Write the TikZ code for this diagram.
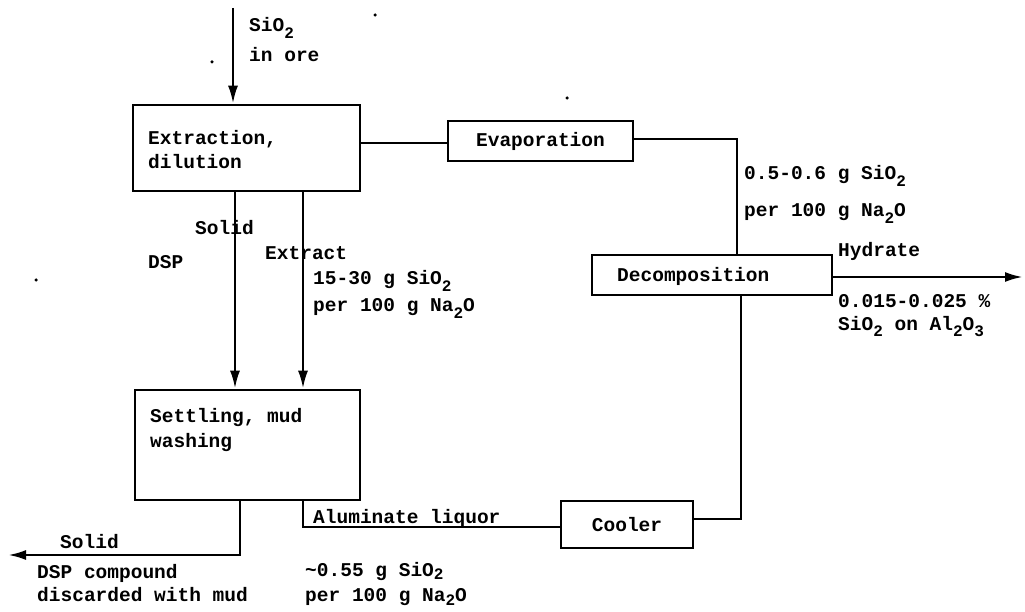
\documentclass[tikz,border=0pt]{standalone}
\usepackage{fontspec}
\setmainfont{Liberation Mono}
\usetikzlibrary{arrows.meta}
\newcommand{\dn}[2][-0.6ex]{\raisebox{#1}{\fontsize{16}{16}\selectfont #2}}
\tikzset{
  box/.style={draw, line width=2.6pt, inner sep=0pt},
  lbl/.style={anchor=base west, inner sep=0pt},
  flow/.style={line width=2.6pt},
  arr/.style={flow, -{Latex[length=18pt,width=10pt]}},
  speck/.style={fill=black, circle, inner sep=0pt, minimum size=3.5pt}
}
\begin{document}
\begin{tikzpicture}[x=1pt,y=-1pt,font=\fontsize{19.5}{24}\selectfont\bfseries]
\useasboundingbox (0,0) rectangle (1025,612);
% boxes
\node[box, minimum width=227pt, minimum height=86pt] (extr) at (246.5,148) {};
\node[box, minimum width=185pt, minimum height=40pt] (evap) at (540.5,141) {Evaporation};
\node[box, minimum width=240pt, minimum height=40pt] (deco) at (712,275) {};
\node[box, minimum width=225pt, minimum height=110pt] (settle) at (247.5,445) {};
\node[box, minimum width=132pt, minimum height=47pt] (cool) at (627,524.5) {Cooler};
% box texts
\node[lbl] (extrA) at (148,145) {Extraction,};
\node[lbl] (extrB) at (148,169) {dilution};
\node[lbl] (decoT) at (617,282) {Decomposition};
\node[lbl] (setA) at (150,422) {Settling, mud};
\node[lbl] (setB) at (150,447) {washing};
% coordinates
\coordinate (top) at (233,8);
\coordinate (r1) at (737,139);
\coordinate (r2) at (741,519);
\coordinate (al) at (303,527);
\coordinate (sb) at (240,555);
\coordinate (send) at (8,555);
\coordinate (hend) at (1023,277);
% connectors
\draw[arr] (top) -- (top |- extr.north);
\draw[flow] (extr.east |- 0,143) -- (evap.west |- 0,143);
\draw[flow] (evap.east |- r1) -- (r1) -- (r1 |- deco.north);
\draw[flow] (r2 |- deco.south) -- (r2) -- (cool.east |- r2);
\draw[flow] (cool.west |- al) -- (al) -- (al |- settle.south);
\draw[arr] (extr.south -| 235,0) -- (settle.north -| 235,0);
\draw[arr] (extr.south -| 303,0) -- (settle.north -| 303,0);
\draw[flow] (settle.south -| sb) -- (sb) -- (sb -| 60,0);
\draw[arr] (sb -| 60,0) -- (send);
\draw[arr] (deco.east |- hend) -- (hend);
% labels
\node[lbl] (l1) at (249,32) {SiO\dn{2}};
\node[lbl] (l2) at (249,62) {in ore};
\node[lbl] (l3) at (195,235) {Solid};
\node[lbl] (l4) at (148,269) {DSP};
\node[lbl] (l5) at (265,260) {Extract};
\node[lbl] (l6) at (313,285) {15-30 g SiO\dn{2}};
\node[lbl] (l7) at (313,312) {per 100 g Na\dn{2}O};
\node[lbl] (l8) at (744,180) {0.5-0.6 g SiO\dn{2}};
\node[lbl] (l9) at (744,217) {per 100 g Na\dn{2}O};
\node[lbl] (l10) at (838,257) {Hydrate};
\node[lbl] (l11) at (838,308) {0.015-0.025 \%};
\node[lbl] (l12) at (838,330) {SiO\dn{2} on Al\dn{2}O\dn{3}};
\node[lbl] (l13) at (313,523) {Aluminate liquor};
\node[lbl] (l14) at (60,548) {Solid};
\node[lbl] (l15) at (37,578) {DSP compound};
\node[lbl] (l16) at (37,601) {discarded with mud};
\node[lbl] (l17) at (305,576) {\textasciitilde 0.55 g SiO\dn[-0.3ex]{2}};
\node[lbl] (l18) at (305,601) {per 100 g Na\dn[-0.45ex]{2}O};
% specks
\node[speck] (s1) at (212,62) {};
\node[speck] (s2) at (375,15) {};
\node[speck] (s3) at (567,98) {};
\node[speck] (s4) at (36,280) {};
\end{tikzpicture}
\end{document}
